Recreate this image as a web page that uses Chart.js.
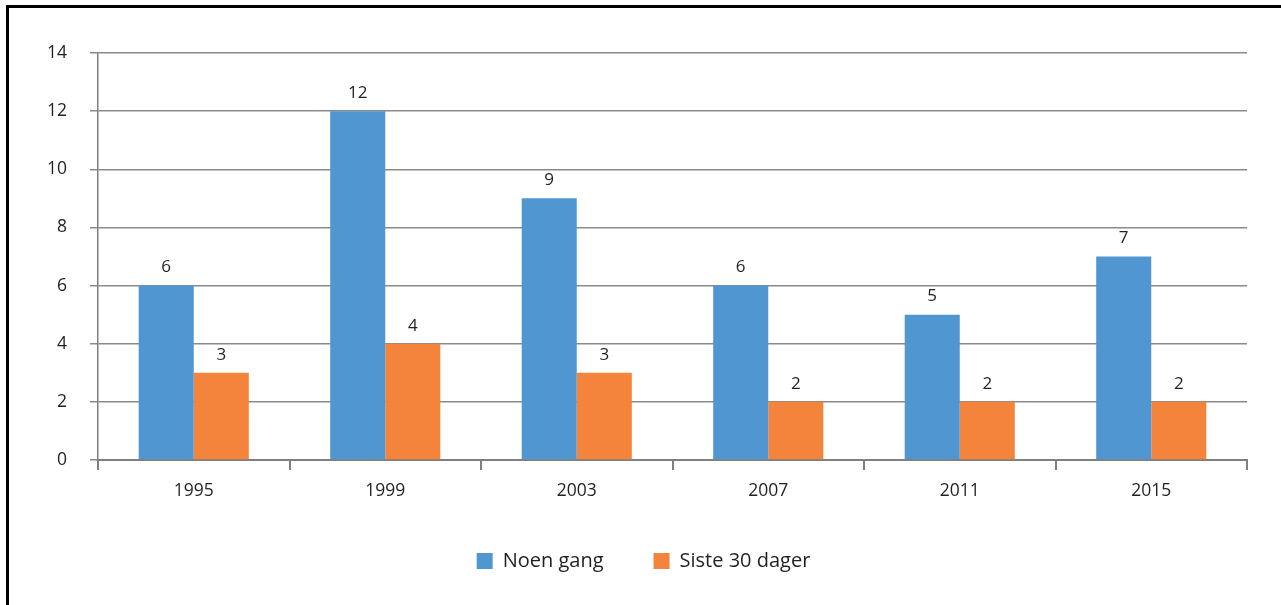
<!DOCTYPE html>
<html>
<head>
<meta charset="utf-8">
<script src="https://cdn.jsdelivr.net/npm/chart.js@4"></script>
<style>
    html, body { margin: 0; padding: 0; background: #fff; }
    #wrap { position: relative; width: 1281px; height: 605px; }
    #frame { position: absolute; left: 6px; top: 5px; right: 0; bottom: 0; border-left: 3px solid #000; border-top: 3px solid #000; pointer-events: none; }
</style>
</head>
<body>
<div id="wrap">
    <canvas id="myChart" width="1281" height="605"></canvas>
    <div id="frame"></div>
</div>
<script>
const years = ['1995', '1999', '2003', '2007', '2011', '2015'];
const noenGang = [6, 12, 9, 6, 5, 7];
const siste30 = [3, 4, 3, 2, 2, 2];
const yTicks = [0, 2, 4, 6, 8, 10, 12, 14];

const textColor = '#231f20';
const fontFamily = '"Open Sans", sans-serif';

// draw the numbers over each bar
const barLabels = {
    id: 'barLabels',
    afterDatasetsDraw(chart) {
        const c = chart.ctx;
        c.save();
        c.fillStyle = textColor;
        c.font = '17px ' + fontFamily;
        c.textAlign = 'center';
        c.textBaseline = 'middle';
        chart.data.datasets.forEach(function(ds, i) {
            chart.getDatasetMeta(i).data.forEach(function(bar, j) {
                c.fillText(ds.data[j], bar.x, bar.y - 18);
            });
        });
        c.restore();
    }
};

// legend sits a bit right of centre in the original
const legendShift = {
    id: 'legendShift',
    afterLayout(chart) {
        chart.legend.left += 20;
        chart.legend.right += 20;
    }
};

const ctx = document.getElementById('myChart');
new Chart(ctx, {
    type: 'bar',
    data: {
        labels: years,
        datasets: [{
            label: 'Noen gang',
            data: noenGang,
            backgroundColor: '#5097d1',
            categoryPercentage: 0.575,
            barPercentage: 1
        }, {
            label: 'Siste 30 dager',
            data: siste30,
            backgroundColor: '#f4833b',
            categoryPercentage: 0.575,
            barPercentage: 1
        }]
    },
    plugins: [barLabels, legendShift],
    options: {
        responsive: false,
        animation: false,
        layout: {
            padding: { left: 0, right: 34, top: 53, bottom: 24 }
        },
        plugins: {
            tooltip: { enabled: false },
            legend: {
                position: 'bottom',
                labels: {
                    boxWidth: 16,
                    boxHeight: 16,
                    padding: 50,
                    color: textColor,
                    font: { family: fontFamily, size: 20 }
                }
            }
        },
        scales: {
            x: {
                afterFit: function(scale) { scale.height = 41; },
                grid: {
                    offset: true,
                    drawOnChartArea: false,
                    drawTicks: true,
                    tickLength: 10,
                    color: '#7f7f7f',
                    lineWidth: 2
                },
                border: { color: '#7f7f7f', width: 2 },
                ticks: {
                    color: textColor,
                    padding: 11,
                    font: { family: fontFamily, size: 17.5 }
                }
            },
            y: {
                min: 0,
                max: 14,
                afterFit: function(scale) { scale.width = 98; },
                afterBuildTicks: function(scale) {
                    scale.ticks = yTicks.map(function(v) { return { value: v }; });
                },
                grid: {
                    color: '#8a8a8a',
                    lineWidth: 1.5,
                    tickLength: 8
                },
                border: { color: '#7f7f7f', width: 1.5 },
                ticks: {
                    color: textColor,
                    padding: 23,
                    font: { family: fontFamily, size: 17.5 }
                }
            }
        }
    }
});
</script>
</body>
</html>
